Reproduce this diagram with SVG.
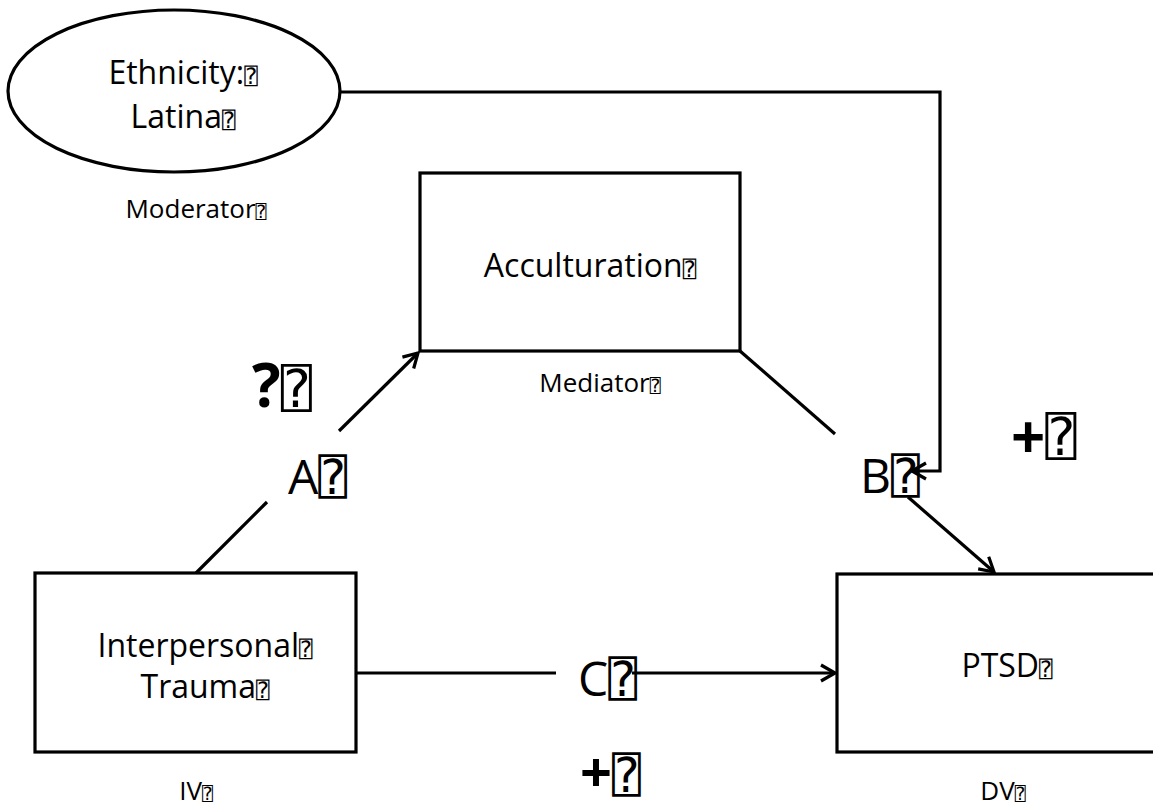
<svg xmlns="http://www.w3.org/2000/svg" width="1153" height="810" viewBox="0 0 1153 810">
  <style>
    .shape { fill: #fff; stroke: #000; stroke-width: 3.2; }
    .edge { fill: none; stroke: #000; stroke-width: 3.2; }
    text { font-family: "Open Sans", "DejaVu Sans Mono", "DejaVu Sans", sans-serif; fill: #000; }
    .main { font-size: 32px; text-anchor: middle; }
    .role { font-size: 26px; text-anchor: middle; }
    .path-label { font-size: 48px; }
    .sign { font-size: 60px; font-weight: bold; }
    .q { font-size: 70%; }
    .qs { font-size: 52px; font-weight: normal; }
  </style>
  <defs>
    <marker id="arrow" viewBox="-16 -10 18 20" markerWidth="18" markerHeight="20" refX="0" refY="0" orient="auto" markerUnits="userSpaceOnUse">
      <path d="M-14,-8 L0,0 L-14,8" fill="none" stroke="#000" stroke-width="3.2"/>
    </marker>
  </defs>
  <rect width="1153" height="810" fill="#fff"/>

  <!-- connectors -->
  <g id="connectors">
    <!-- moderator: ethnicity to path B -->
    <path class="edge" d="M340,92 H940 V471 H912" marker-end="url(#arrow)"/>
    <!-- path A: trauma to acculturation -->
    <path class="edge" d="M196,573 L267,502"/>
    <path class="edge" d="M339,431 L418,353" marker-end="url(#arrow)"/>
    <!-- path B: acculturation to PTSD -->
    <path class="edge" d="M740,351 L835,434"/>
    <path class="edge" d="M908,497 L994,572" marker-end="url(#arrow)"/>
    <!-- path C: trauma to PTSD -->
    <path class="edge" d="M356,673 H556"/>
    <path class="edge" d="M632,673 H835" marker-end="url(#arrow)"/>
  </g>

  <g id="ethnicity">
    <ellipse class="shape" cx="174" cy="91" rx="166" ry="81"/>
    <text class="main" x="183" y="84">Ethnicity:<tspan class="q">⍰</tspan></text>
    <text class="main" x="183" y="128">Latina<tspan class="q">⍰</tspan></text>
    <text class="role" x="196" y="218">Moderator<tspan class="q">⍰</tspan></text>
  </g>

  <g id="acculturation">
    <rect class="shape" x="420" y="173" width="320" height="178"/>
    <text class="main" x="590" y="277">Acculturation<tspan class="q">⍰</tspan></text>
    <text class="role" x="600" y="392">Mediator<tspan class="q">⍰</tspan></text>
  </g>

  <g id="trauma">
    <rect class="shape" x="35" y="573" width="321" height="179"/>
    <text class="main" x="205" y="657">Interpersonal<tspan class="q">⍰</tspan></text>
    <text class="main" x="205" y="698">Trauma<tspan class="q">⍰</tspan></text>
    <text class="role" x="196" y="800">IV<tspan class="q">⍰</tspan></text>
  </g>

  <g id="ptsd">
    <rect class="shape" x="837" y="574" width="340" height="178"/>
    <text class="main" x="1007" y="677">PTSD<tspan class="q">⍰</tspan></text>
    <text class="role" x="1003" y="800">DV<tspan class="q">⍰</tspan></text>
  </g>

  <!-- path labels and signs -->
  <g id="labels">
    <text class="path-label" x="288" y="494">A⍰</text>
    <text class="path-label" x="860" y="493">B⍰</text>
    <text class="path-label" x="578" y="696">C⍰</text>
    <text class="sign" x="252" y="407">?<tspan class="qs">⍰</tspan></text>
    <text class="sign" x="1011" y="459">+<tspan class="qs" dy="-4">⍰</tspan></text>
    <text class="sign" x="580" y="792" style="font-size:56px">+<tspan class="qs" style="font-size:48px">⍰</tspan></text>
  </g>
</svg>
